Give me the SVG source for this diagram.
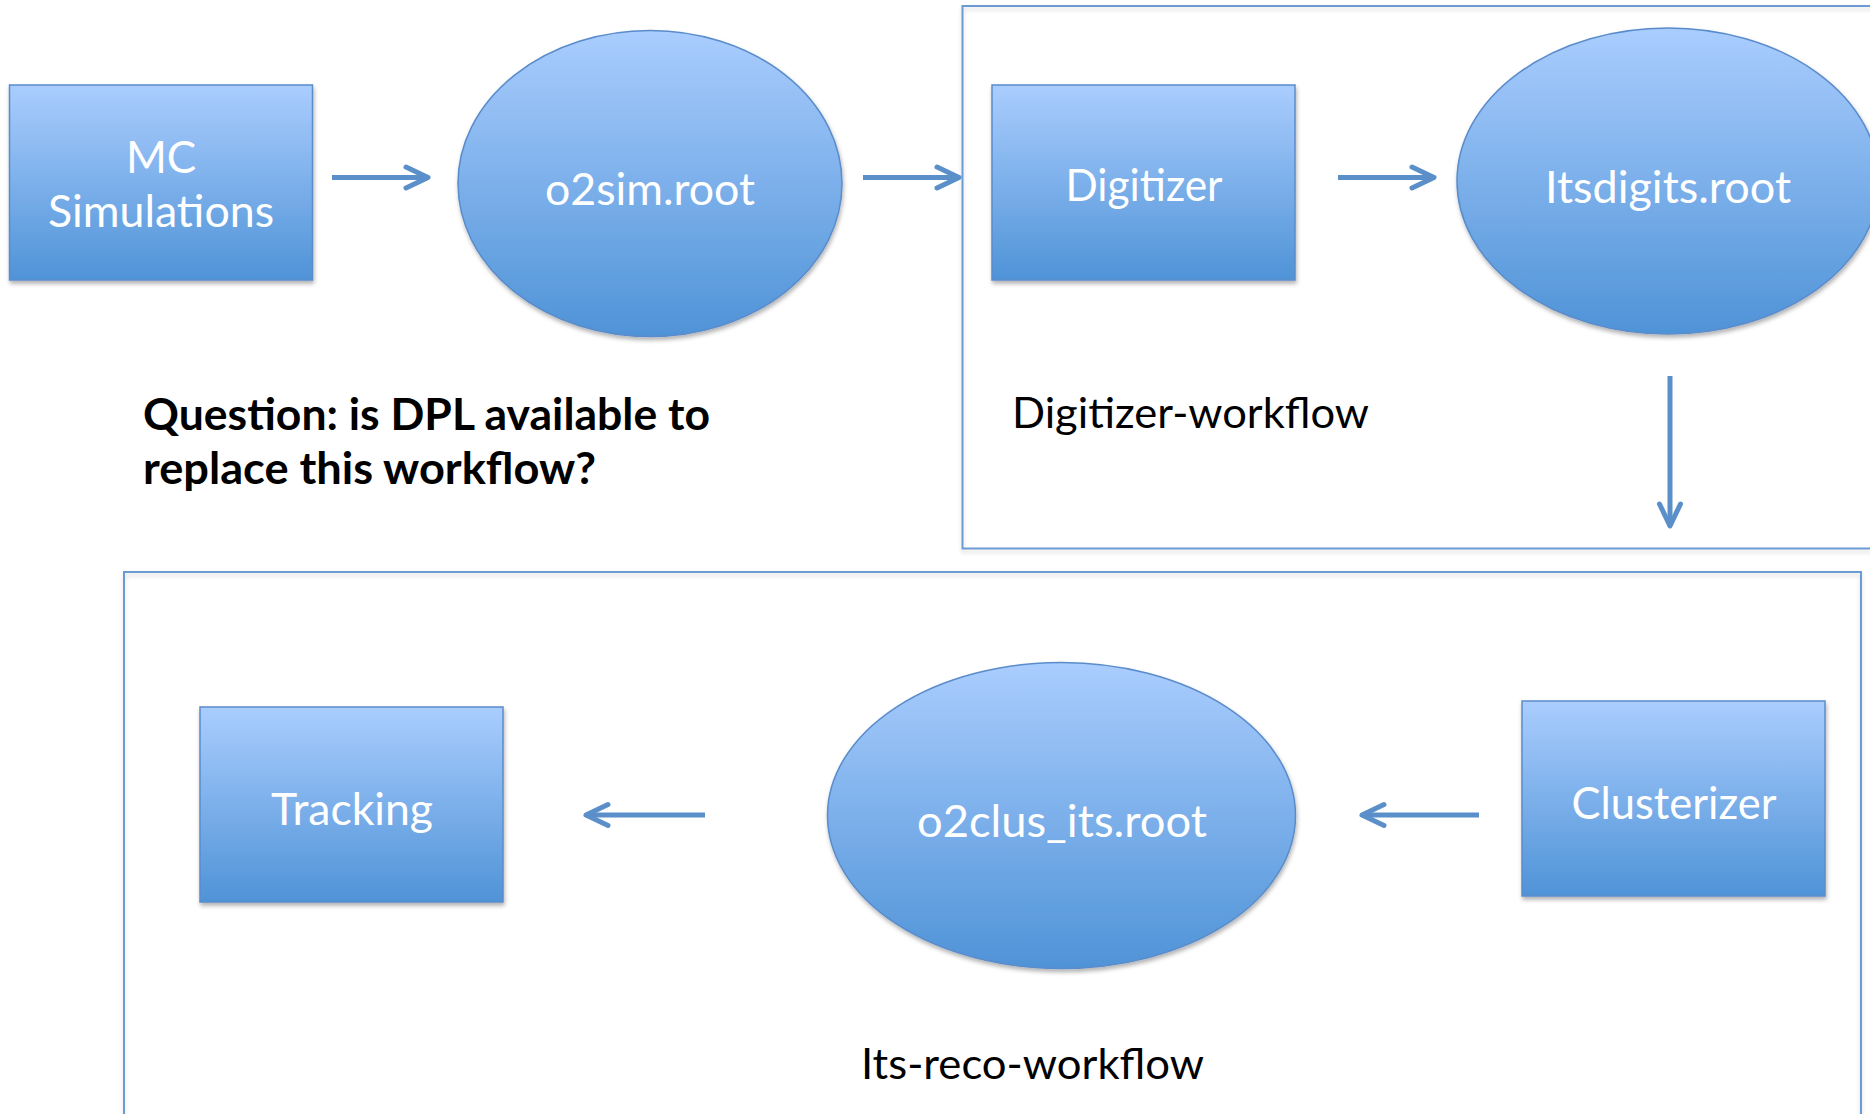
<svg xmlns="http://www.w3.org/2000/svg" width="1870" height="1114" viewBox="0 0 1870 1114">
  <defs>
    <linearGradient id="blueGrad" x1="0" y1="0" x2="0" y2="1">
      <stop offset="0" stop-color="#aacdfe"/>
      <stop offset="1" stop-color="#4f93d7"/>
    </linearGradient>
    <filter id="shadow" x="-10%" y="-10%" width="120%" height="125%">
      <feDropShadow dx="1" dy="3" stdDeviation="2" flood-color="#000" flood-opacity="0.3"/>
    </filter>
    <filter id="frameShadow" x="-5%" y="-5%" width="110%" height="110%">
      <feDropShadow dx="0" dy="3" stdDeviation="2" flood-color="#000" flood-opacity="0.15"/>
    </filter>
    <marker id="chev" viewBox="-26 -15 30 30" refX="0" refY="0" markerWidth="30" markerHeight="30" markerUnits="userSpaceOnUse" orient="auto" overflow="visible">
      <path d="M-22,-10.5 L0,0 L-22,10.5" fill="none" stroke="#5b8fc9" stroke-width="5" stroke-linecap="round" stroke-linejoin="round"/>
    </marker>
  </defs>
  <style>
    .node { fill: url(#blueGrad); stroke: #5a8ccb; stroke-width: 1.5; filter: url(#shadow); }
    .frame { fill: none; stroke: #6a9bd3; stroke-width: 2; filter: url(#frameShadow); }
    .ntext { font-family: Lato, "Liberation Sans", sans-serif; font-size: 44px; fill: #ffffff; text-anchor: middle; }
    .label { font-family: Lato, "Liberation Sans", sans-serif; font-size: 43px; fill: #000000; }
    .bold { font-weight: bold; font-size: 44px; }
    .conn { fill: none; stroke: #5b8fc9; stroke-width: 5; marker-end: url(#chev); }
  </style>
  <rect width="1870" height="1114" fill="#ffffff"/>

  <g id="digitizer-workflow-frame">
    <rect class="frame" x="962.5" y="6" width="930" height="542.5"/>
    <text class="label" x="1012" y="428" textLength="357" lengthAdjust="spacingAndGlyphs">Digitizer-workflow</text>
  </g>
  <g id="its-reco-workflow-frame">
    <rect class="frame" x="124" y="572" width="1737" height="600"/>
    <text class="label" x="861" y="1079" textLength="343" lengthAdjust="spacingAndGlyphs">Its-reco-workflow</text>
  </g>

  <g id="question">
    <text class="label bold" x="143" y="430" textLength="567" lengthAdjust="spacingAndGlyphs">Question: is DPL available to</text>
    <text class="label bold" x="143" y="484" textLength="453" lengthAdjust="spacingAndGlyphs">replace this workflow?</text>
  </g>

  <g id="mc-simulations">
    <rect class="node" x="9.5" y="85" width="303" height="195"/>
    <text class="ntext" x="161" y="173">MC</text>
    <text class="ntext" x="161" y="227" textLength="226" lengthAdjust="spacingAndGlyphs">Simulations</text>
  </g>
  <g id="o2sim-root">
    <ellipse class="node" cx="650" cy="183.5" rx="192" ry="153"/>
    <text class="ntext" x="650" y="205" textLength="210" lengthAdjust="spacingAndGlyphs">o2sim.root</text>
  </g>
  <g id="digitizer">
    <rect class="node" x="992" y="85" width="303" height="195"/>
    <text class="ntext" x="1144" y="201" textLength="157" lengthAdjust="spacingAndGlyphs">Digitizer</text>
  </g>
  <g id="itsdigits-root">
    <ellipse class="node" cx="1668" cy="181" rx="211" ry="153"/>
    <text class="ntext" x="1668" y="203" textLength="246" lengthAdjust="spacingAndGlyphs">Itsdigits.root</text>
  </g>
  <g id="clusterizer">
    <rect class="node" x="1522" y="701" width="303" height="195"/>
    <text class="ntext" x="1674" y="819" textLength="205" lengthAdjust="spacingAndGlyphs">Clusterizer</text>
  </g>
  <g id="o2clus-its-root">
    <ellipse class="node" cx="1061.5" cy="815.5" rx="234" ry="153"/>
    <text class="ntext" x="1062" y="837" textLength="290" lengthAdjust="spacingAndGlyphs">o2clus_its.root</text>
  </g>
  <g id="tracking">
    <rect class="node" x="200" y="707" width="303" height="195"/>
    <text class="ntext" x="352" y="825" textLength="162" lengthAdjust="spacingAndGlyphs">Tracking</text>
  </g>

  <g id="connectors">
    <path class="conn" d="M332,177.5 L428,177.5"/>
    <path class="conn" d="M863,177.5 L959,177.5"/>
    <path class="conn" d="M1338,177.5 L1434,177.5"/>
    <path class="conn" d="M1670,376 L1670,526"/>
    <path class="conn" d="M1479,815 L1362,815"/>
    <path class="conn" d="M705,815 L586,815"/>
  </g>
</svg>
